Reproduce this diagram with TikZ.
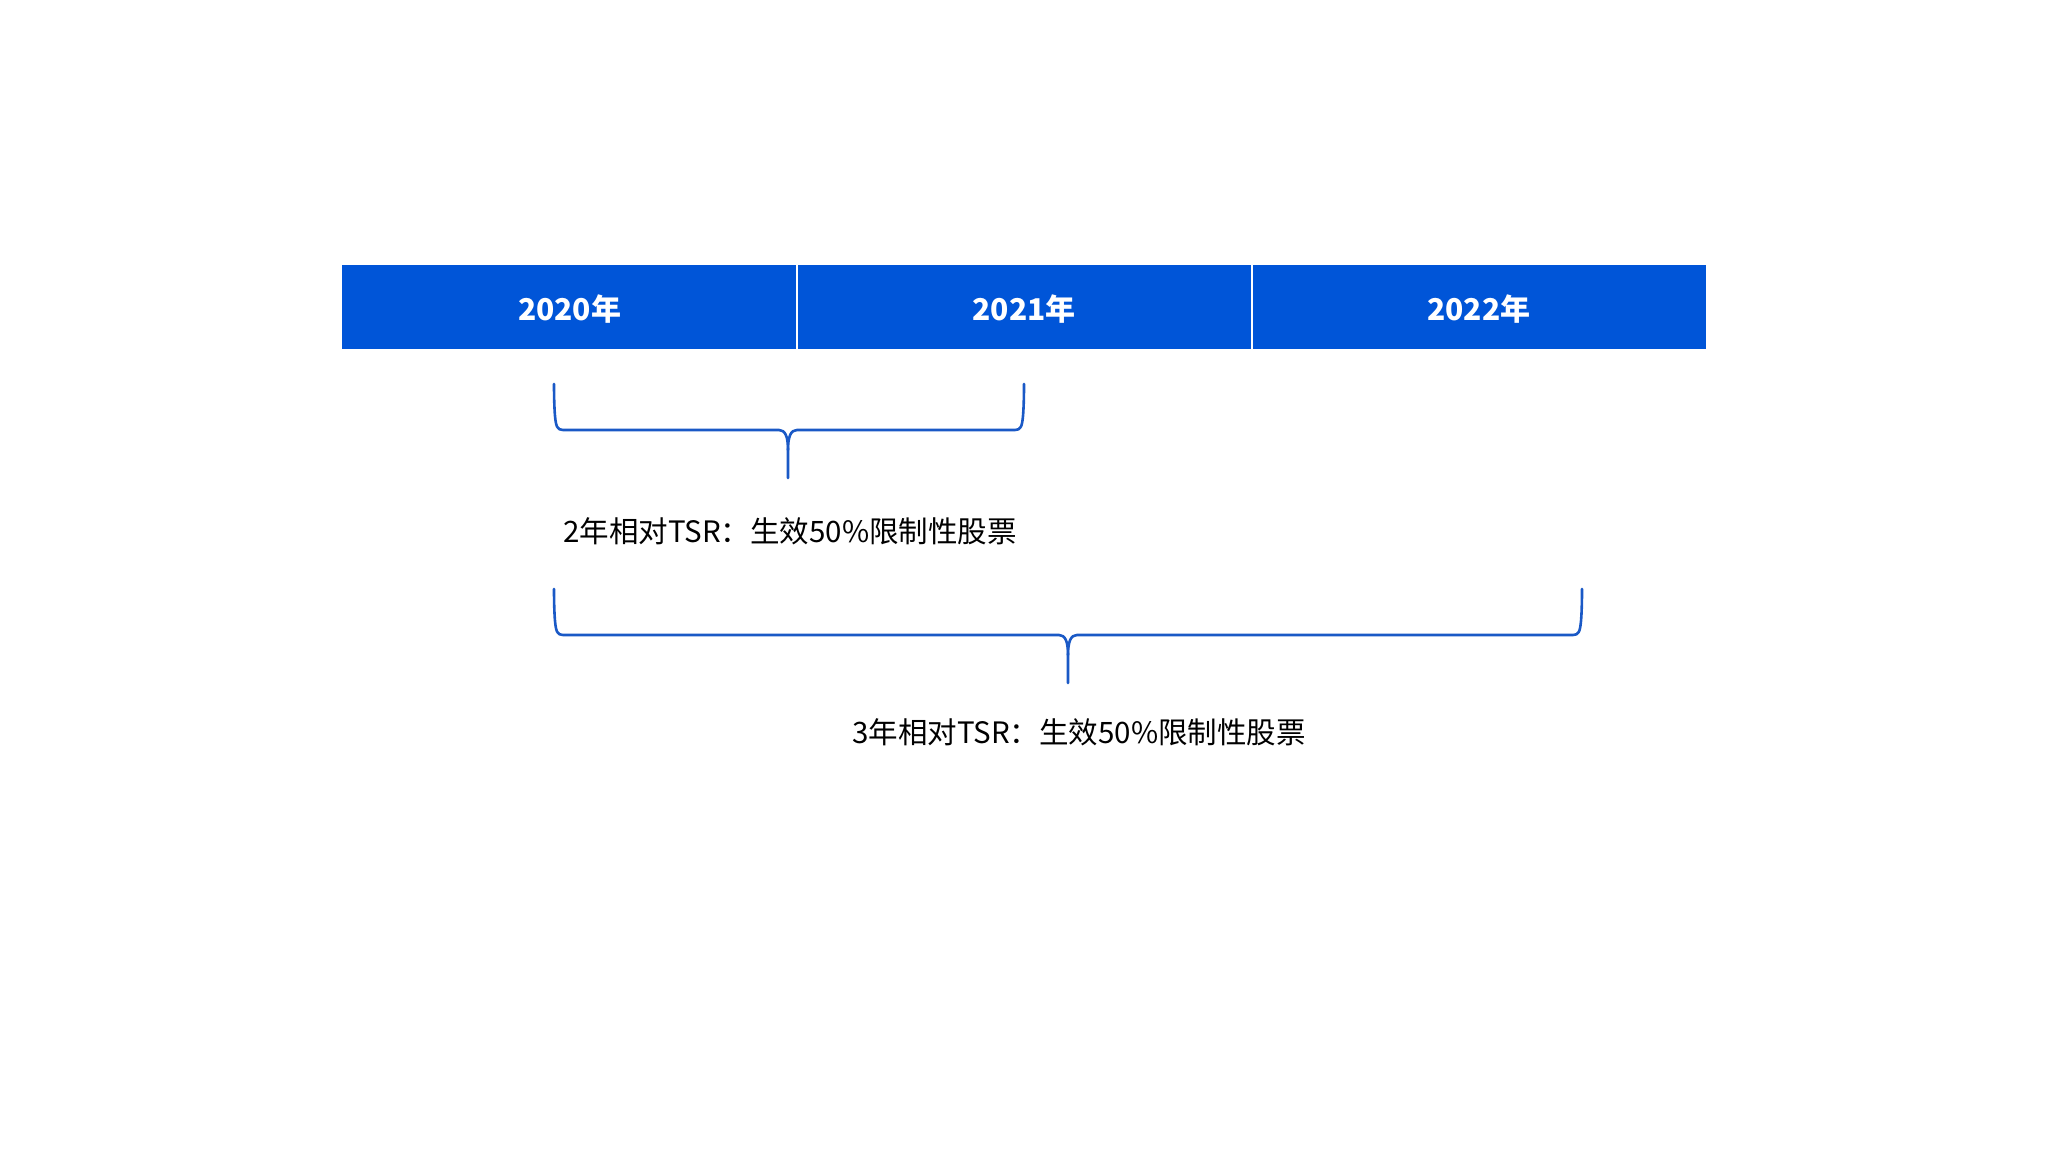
\documentclass[tikz,border=0pt]{standalone}
\usepackage{fontspec}
\setmainfont{Noto Sans CJK SC}
\definecolor{barblue}{HTML}{0055D8}
\definecolor{braceblue}{HTML}{1A59C6}
\begin{document}
\begin{tikzpicture}[x=1pt,y=-1pt,
  cell/.style={fill=barblue,draw=none,minimum width=454.67pt,minimum height=84pt,inner sep=0pt,anchor=north west,
    text=white,font=\fontsize{30}{36}\selectfont\bfseries},
  celltext/.style={text=white,font=\fontsize{30}{36}\selectfont\bfseries,inner sep=0pt},
  bracelabel/.style={font=\fontsize{29.5}{36}\selectfont,text=black,inner sep=0pt},
  bracepath/.style={draw=braceblue,line width=2.6pt,line join=round,line cap=round}]
\path[use as bounding box] (0,0) rectangle (2048,1152);
% timeline bar
\node[cell] (y2020) at (342,265) {};
\node[cell] (y2021) at (796.67,265) {};
\node[cell] (y2022) at (1251.33,265) {};
\node[celltext] (l2020) at ([yshift=-2pt]y2020.center) {2020年};
\node[celltext] (l2021) at ([yshift=-2pt]y2021.center) {2021年};
\node[celltext] (l2022) at ([yshift=-2pt]y2022.center) {2022年};
\draw[white,line width=1.5pt] (y2020.north east) -- (y2020.south east);
\draw[white,line width=1.5pt] (y2021.north east) -- (y2021.south east);
% brace 1
\coordinate (b1l) at (554,384);
\coordinate (b1r) at (1024,384);
\coordinate (b1t) at (788,478);
\draw[bracepath] (b1l) .. controls (554,400) and (554.5,410) .. (555,416) .. controls (556,426) and (557,430) .. (563,430) -- (779,430)
  .. controls (785,430) and (788,436) .. (788,450) -- (b1t);
\draw[bracepath] (b1r) .. controls (1024,400) and (1023.5,410) .. (1023,416) .. controls (1022,426) and (1021,430) .. (1015,430) -- (797,430)
  .. controls (791,430) and (788,436) .. (788,450);
\node[bracelabel] (t1) at (790,531) {2年相对TSR：生效50\%限制性股票};
% brace 2
\coordinate (b2l) at (554,589);
\coordinate (b2r) at (1582,589);
\coordinate (b2t) at (1068,683);
\draw[bracepath] (b2l) .. controls (554,605) and (554.5,615) .. (555,621) .. controls (556,631) and (557,635) .. (563,635) -- (1059,635)
  .. controls (1065,635) and (1068,641) .. (1068,655) -- (b2t);
\draw[bracepath] (b2r) .. controls (1582,605) and (1581.5,615) .. (1581,621) .. controls (1580,631) and (1579,635) .. (1573,635) -- (1077,635)
  .. controls (1071,635) and (1068,641) .. (1068,655);
\node[bracelabel] (t2) at (1079,732) {3年相对TSR：生效50\%限制性股票};
\end{tikzpicture}
\end{document}
